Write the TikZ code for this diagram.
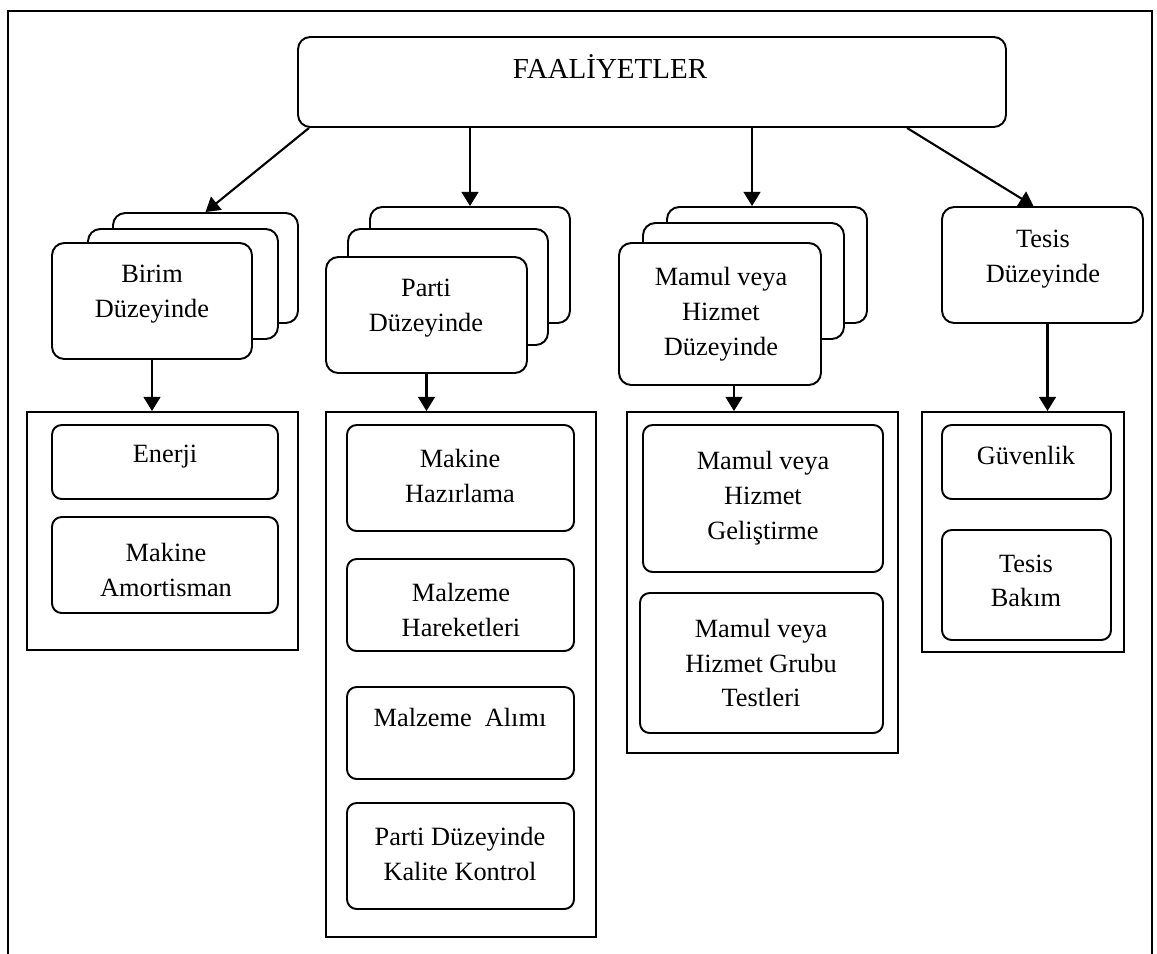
\documentclass[tikz,border=0pt]{standalone}
\usepackage{fontspec}
\setmainfont{Liberation Serif}
\usetikzlibrary{arrows.meta,fit,calc}
% box from its two corners: style, name, x1, y1, x2, y2
\newcommand\boxat[6]{\node[#1, fit={(#3,#4)(#5,#6)}] (#2) {};}
\begin{document}
\begin{tikzpicture}[x=0.02cm,y=-0.02cm,
  line width=1.1pt,
  frame/.style={draw, inner sep=0pt, fill=white},
  rbox/.style={frame, rounded corners=7pt},
  sbox/.style={frame, rounded corners=5.5pt},
  grp/.style={frame},
  lbl/.style={align=center, font=\fontsize{15}{19.8}\selectfont, inner sep=0pt},
  ttl/.style={font=\fontsize{16.5}{20}\selectfont, inner sep=0pt},
  arr/.style={-{Triangle[length=8pt,width=9.5pt]}, line width=1.2pt}]
\useasboundingbox (0,0) rectangle (1157,954);

% outer frame, open at the bottom
\draw (8,954) -- (8,11) -- (1152,11) -- (1152,954);

% top node
\boxat{rbox}{top}{298}{37}{1006}{127}
\node[ttl, anchor=base] (toptxt) at (610,78) {FAALİYETLER};

% Birim level (stacked)
\boxat{rbox}{birimB}{113}{213}{298}{323}
\boxat{rbox}{birimM}{88}{229}{278}{339}
\boxat{rbox}{birimF}{52}{243}{252}{359}
\node[lbl] (birimtxt) at (152,294) {Birim\\Düzeyinde};

% Parti level (stacked)
\boxat{rbox}{partiB}{370}{207}{570}{323}
\boxat{rbox}{partiM}{348}{229}{548}{345}
\boxat{rbox}{partiF}{326}{257}{527}{373}
\node[lbl] (partitxt) at (426,308) {Parti\\Düzeyinde};

% Mamul / Hizmet level (stacked)
\boxat{rbox}{mamulB}{667}{207}{867}{323}
\boxat{rbox}{mamulM}{643}{223}{844}{339}
\boxat{rbox}{mamulF}{619}{243}{821}{385}
\node[lbl] (mamultxt) at (721,314) {Mamul veya\\Hizmet\\Düzeyinde};

% Tesis level
\boxat{rbox}{tesis}{942}{207}{1143}{323}
\node[lbl] (tesistxt) at (1043,259) {Tesis\\Düzeyinde};

% group: Birim
\boxat{grp}{birimG}{27}{412}{298}{650}
\boxat{sbox}{enerji}{52}{425}{278}{499}
\node[lbl] (enerjitxt) at (165,457) {Enerji};
\boxat{sbox}{amort}{52}{517}{278}{613}
\node[lbl] (amorttxt) at (166,570) {Makine\\Amortisman};

% group: Parti
\boxat{grp}{partiG}{326}{412}{596}{937}
\boxat{sbox}{hazir}{347}{425}{574}{531}
\node[lbl] (hazirtxt) at (460,476) {Makine\\Hazırlama};
\boxat{sbox}{harek}{347}{559}{574}{651}
\node[lbl] (harektxt) at (461,610) {Malzeme\\Hareketleri};
\boxat{sbox}{alim}{347}{687}{574}{779}
\node[lbl] (alimtxt) at (460,717) {Malzeme\ \ Alımı};
\boxat{sbox}{kalite}{347}{803}{574}{909}
\node[lbl] (kalitetxt) at (460,854) {Parti Düzeyinde\\Kalite Kontrol};

% group: Mamul / Hizmet
\boxat{grp}{mamulG}{627}{412}{898}{753}
\boxat{sbox}{gelis}{643}{425}{883}{572}
\node[lbl] (gelistxt) at (763,498) {Mamul veya\\Hizmet\\Geliştirme};
\boxat{sbox}{test}{640}{593}{883}{733}
\node[lbl] (testtxt) at (761,663) {Mamul veya\\Hizmet Grubu\\Testleri};

% group: Tesis
\boxat{grp}{tesisG}{922}{412}{1124}{652}
\boxat{sbox}{guven}{942}{425}{1111}{499}
\node[lbl] (guventxt) at (1026,455) {Güvenlik};
\boxat{sbox}{bakim}{942}{530}{1111}{640}
\node[lbl] (bakimtxt) at (1026,581) {Tesis\\Bakım};

% connectors from the top node
\coordinate (s1) at ($(top.south west)+(12,0)$);
\coordinate (s4) at ($(top.south west)+(610,0)$);
\coordinate (e3) at ($(mamulB.north west)+(86,0)$);
\coordinate (e4) at ($(tesis.north)+(-9,0)$);
\draw[arr] (s1) -- (birimB.north);
\draw[arr] (top.south -| partiB.north) -- (partiB.north);
\draw[arr] (top.south -| e3) -- (e3);
\draw[arr] (s4) -- (e4);

% connectors down to the groups
\coordinate (d3) at ($(mamulF.south)+(14,0)$);
\coordinate (d4) at ($(tesis.south)+(5,0)$);
\draw[arr] (birimF.south) -- (birimF.south |- birimG.north);
\draw[arr] (partiF.south) -- (partiF.south |- partiG.north);
\draw[arr] (d3) -- (d3 |- mamulG.north);
\draw[arr] (d4) -- (d4 |- tesisG.north);
\end{tikzpicture}
\end{document}
